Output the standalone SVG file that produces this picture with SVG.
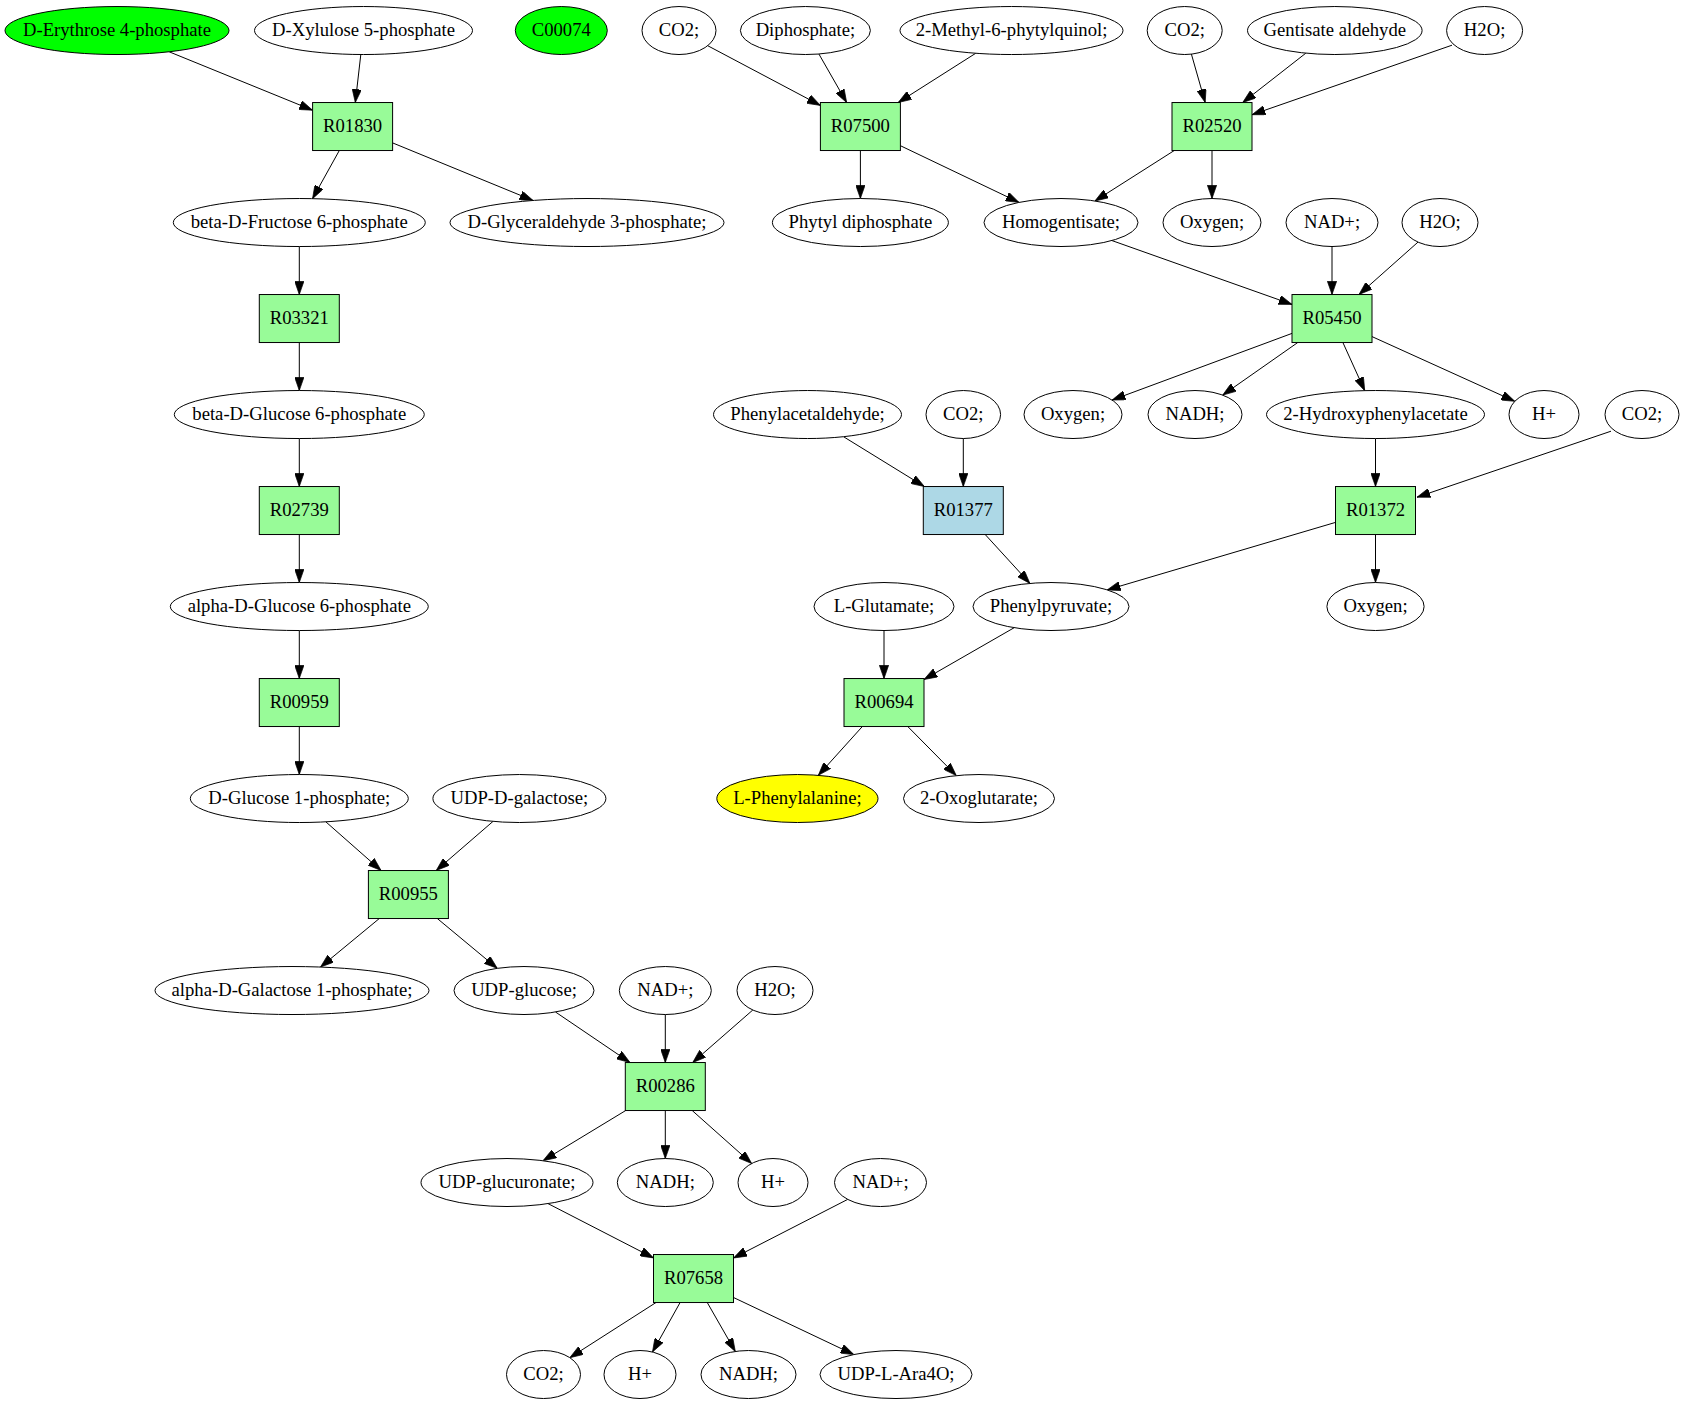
<svg xmlns="http://www.w3.org/2000/svg" width="1685" height="1403" viewBox="0 0 1685 1403">
<style>
.n ellipse{fill:#ffffff;stroke:#000000;stroke-width:1}
.n rect{fill:#98fb98;stroke:#000000;stroke-width:1}
.n text{font-family:"Liberation Serif","Times New Roman",serif;font-size:18.67px;text-anchor:middle;fill:#000000}
.src ellipse{fill:#00ff00}
.tgt ellipse{fill:#ffff00}
.blue rect{fill:#add8e6}
#edges path{fill:none;stroke:#000000;stroke-width:1;marker-end:url(#arr)}
</style>
<defs>
<marker id="arr" markerUnits="userSpaceOnUse" viewBox="0 0 10 7" markerWidth="13.33" markerHeight="9.33" refX="10" refY="3.5" orient="auto">
<path d="M0,0 L10,3.5 L0,7 z" fill="#000000" stroke="#000000" stroke-width="0.5"/>
</marker>
</defs>
<rect x="0" y="0" width="1685" height="1403" fill="#ffffff"/>
<g transform="translate(0,1.2)">
<g id="edges">
<path d="M169.2,50.6 L312.6,109"/>
<path d="M360.8,53.3 L355.3,101.3"/>
<path d="M339.3,149.33 L312.55,197.46"/>
<path d="M392.6,141.7 L533.1,199.3"/>
<path d="M299.3,245.33 L299.3,293.33"/>
<path d="M299.3,341.33 L299.3,389.33"/>
<path d="M299.3,437.33 L299.3,485.33"/>
<path d="M299.3,533.33 L299.3,581.33"/>
<path d="M299.3,629.33 L299.3,677.33"/>
<path d="M299.3,725.33 L299.3,773.33"/>
<path d="M325.8,820.6 L381.1,869.33"/>
<path d="M493,820.2 L436.2,869.33"/>
<path d="M379.3,917.33 L320.5,965.85"/>
<path d="M437.3,917.33 L497.3,967.15"/>
<path d="M555.5,1010.8 L630,1061.33"/>
<path d="M665.3,1013.33 L665.3,1061.33"/>
<path d="M752.8,1008.8 L692.7,1061.33"/>
<path d="M625.7,1109.33 L543,1159.5"/>
<path d="M665.3,1109.33 L665.3,1157.33"/>
<path d="M692.2,1109.33 L751.7,1162.3"/>
<path d="M548,1202.4 L653.5,1256.7"/>
<path d="M847.7,1198.2 L733.5,1256.8"/>
<path d="M656,1301.33 L569.8,1356.5"/>
<path d="M680.1,1301.33 L652.5,1350.8"/>
<path d="M707.25,1301.33 L735.3,1350.3"/>
<path d="M733.5,1296.3 L853.9,1353.4"/>
<path d="M707.7,44.5 L820.4,104.2"/>
<path d="M818.9,52.8 L846.65,101.33"/>
<path d="M975.7,52.1 L898.2,101.33"/>
<path d="M860.4,149.33 L860.4,197.33"/>
<path d="M900.4,144.5 L1019,201.2"/>
<path d="M1191.4,52.9 L1205.2,101.33"/>
<path d="M1305.8,52 L1242.7,101.33"/>
<path d="M1452,44 L1252,113.5"/>
<path d="M1174.25,149.33 L1094.9,199.8"/>
<path d="M1212,149.33 L1212,197.33"/>
<path d="M1111.9,239.35 L1292,303.2"/>
<path d="M1332,245.33 L1332,293.33"/>
<path d="M1418,240.9 L1359,293.33"/>
<path d="M1292,332.2 L1112.1,398.85"/>
<path d="M1297.75,341.33 L1222.7,393.9"/>
<path d="M1342.9,341.33 L1364.7,389.45"/>
<path d="M1372,335.4 L1514.8,400.1"/>
<path d="M843.5,435.5 L924.35,485.33"/>
<path d="M963.3,437.33 L963.3,485.33"/>
<path d="M985.2,533.33 L1029.9,582.2"/>
<path d="M1375.5,437.33 L1375.5,485.33"/>
<path d="M1611,430 L1417,496"/>
<path d="M1335.5,521.2 L1107.2,588.7"/>
<path d="M1375.5,533.33 L1375.5,581.33"/>
<path d="M884,629.33 L884,677.33"/>
<path d="M1014.2,626.5 L924,678.3"/>
<path d="M862.35,725.33 L818.3,774.15"/>
<path d="M907.75,725.33 L956.3,774.4"/>
</g>
<g id="n_e4p" class="n src"><ellipse cx="117" cy="29.33" rx="112" ry="24"/><text x="117" y="34.93">D-Erythrose 4-phosphate</text></g>
<g id="n_xu5p" class="n"><ellipse cx="363.5" cy="29.33" rx="109" ry="24"/><text x="363.5" y="34.93">D-Xylulose 5-phosphate</text></g>
<g id="n_c00074" class="n src"><ellipse cx="561.3" cy="29.33" rx="46" ry="24"/><text x="561.3" y="34.93">C00074</text></g>
<g id="n_co2a" class="n"><ellipse cx="679" cy="29.33" rx="37" ry="24"/><text x="679" y="34.93">CO2;</text></g>
<g id="n_diphos" class="n"><ellipse cx="805.4" cy="29.33" rx="65" ry="24"/><text x="805.4" y="34.93">Diphosphate;</text></g>
<g id="n_mpq" class="n"><ellipse cx="1011.5" cy="29.33" rx="111.5" ry="24"/><text x="1011.5" y="34.93">2-Methyl-6-phytylquinol;</text></g>
<g id="n_co2b" class="n"><ellipse cx="1184.7" cy="29.33" rx="37.5" ry="24"/><text x="1184.7" y="34.93">CO2;</text></g>
<g id="n_gent" class="n"><ellipse cx="1334.8" cy="29.33" rx="87.3" ry="24"/><text x="1334.8" y="34.93">Gentisate aldehyde</text></g>
<g id="n_h2oa" class="n"><ellipse cx="1484.6" cy="29.33" rx="38" ry="24"/><text x="1484.6" y="34.93">H2O;</text></g>
<g id="n_R01830" class="n"><rect x="312.6" y="101.33" width="80" height="48"/><text x="352.6" y="130.93">R01830</text></g>
<g id="n_R07500" class="n"><rect x="820.4" y="101.33" width="80" height="48"/><text x="860.4" y="130.93">R07500</text></g>
<g id="n_R02520" class="n"><rect x="1172" y="101.33" width="80" height="48"/><text x="1212" y="130.93">R02520</text></g>
<g id="n_bf6p" class="n"><ellipse cx="299.3" cy="221.33" rx="126" ry="24"/><text x="299.3" y="226.93">beta-D-Fructose 6-phosphate</text></g>
<g id="n_gap" class="n"><ellipse cx="587" cy="221.33" rx="137" ry="24"/><text x="587" y="226.93">D-Glyceraldehyde 3-phosphate;</text></g>
<g id="n_phytyl" class="n"><ellipse cx="860.4" cy="221.33" rx="88" ry="24"/><text x="860.4" y="226.93">Phytyl diphosphate</text></g>
<g id="n_homog" class="n"><ellipse cx="1061" cy="221.33" rx="77" ry="24"/><text x="1061" y="226.93">Homogentisate;</text></g>
<g id="n_oxya" class="n"><ellipse cx="1212" cy="221.33" rx="49" ry="24"/><text x="1212" y="226.93">Oxygen;</text></g>
<g id="n_nada" class="n"><ellipse cx="1332" cy="221.33" rx="46" ry="24"/><text x="1332" y="226.93">NAD+;</text></g>
<g id="n_h2ob" class="n"><ellipse cx="1440" cy="221.33" rx="38" ry="24"/><text x="1440" y="226.93">H2O;</text></g>
<g id="n_R03321" class="n"><rect x="259.3" y="293.33" width="80" height="48"/><text x="299.3" y="322.93">R03321</text></g>
<g id="n_R05450" class="n"><rect x="1292" y="293.33" width="80" height="48"/><text x="1332" y="322.93">R05450</text></g>
<g id="n_bg6p" class="n"><ellipse cx="299.3" cy="413.33" rx="125" ry="24"/><text x="299.3" y="418.93">beta-D-Glucose 6-phosphate</text></g>
<g id="n_phac" class="n"><ellipse cx="807.5" cy="413.33" rx="94" ry="24"/><text x="807.5" y="418.93">Phenylacetaldehyde;</text></g>
<g id="n_co2c" class="n"><ellipse cx="963.3" cy="413.33" rx="37.3" ry="24"/><text x="963.3" y="418.93">CO2;</text></g>
<g id="n_oxyb" class="n"><ellipse cx="1073" cy="413.33" rx="49" ry="24"/><text x="1073" y="418.93">Oxygen;</text></g>
<g id="n_nadha" class="n"><ellipse cx="1195" cy="413.33" rx="47" ry="24"/><text x="1195" y="418.93">NADH;</text></g>
<g id="n_hpa" class="n"><ellipse cx="1375.5" cy="413.33" rx="109" ry="24"/><text x="1375.5" y="418.93">2-Hydroxyphenylacetate</text></g>
<g id="n_ha" class="n"><ellipse cx="1544" cy="413.33" rx="35" ry="24"/><text x="1544" y="418.93">H+</text></g>
<g id="n_co2d" class="n"><ellipse cx="1642" cy="413.33" rx="37" ry="24"/><text x="1642" y="418.93">CO2;</text></g>
<g id="n_R02739" class="n"><rect x="259.3" y="485.33" width="80" height="48"/><text x="299.3" y="514.93">R02739</text></g>
<g id="n_R01377" class="n blue"><rect x="923.3" y="485.33" width="80" height="48"/><text x="963.3" y="514.93">R01377</text></g>
<g id="n_R01372" class="n"><rect x="1335.5" y="485.33" width="80" height="48"/><text x="1375.5" y="514.93">R01372</text></g>
<g id="n_ag6p" class="n"><ellipse cx="299.3" cy="605.33" rx="129" ry="24"/><text x="299.3" y="610.93">alpha-D-Glucose 6-phosphate</text></g>
<g id="n_glu" class="n"><ellipse cx="884" cy="605.33" rx="70" ry="24"/><text x="884" y="610.93">L-Glutamate;</text></g>
<g id="n_phpyr" class="n"><ellipse cx="1051" cy="605.33" rx="78" ry="24"/><text x="1051" y="610.93">Phenylpyruvate;</text></g>
<g id="n_oxyc" class="n"><ellipse cx="1375.5" cy="605.33" rx="48.6" ry="24"/><text x="1375.5" y="610.93">Oxygen;</text></g>
<g id="n_R00959" class="n"><rect x="259.3" y="677.33" width="80" height="48"/><text x="299.3" y="706.93">R00959</text></g>
<g id="n_R00694" class="n"><rect x="844" y="677.33" width="80" height="48"/><text x="884" y="706.93">R00694</text></g>
<g id="n_g1p" class="n"><ellipse cx="299.3" cy="797.33" rx="109" ry="24"/><text x="299.3" y="802.93">D-Glucose 1-phosphate;</text></g>
<g id="n_udpgal" class="n"><ellipse cx="519.4" cy="797.33" rx="86.5" ry="24"/><text x="519.4" y="802.93">UDP-D-galactose;</text></g>
<g id="n_phe" class="n tgt"><ellipse cx="797.4" cy="797.33" rx="80.6" ry="24"/><text x="797.4" y="802.93">L-Phenylalanine;</text></g>
<g id="n_oxog" class="n"><ellipse cx="979" cy="797.33" rx="75.5" ry="24"/><text x="979" y="802.93">2-Oxoglutarate;</text></g>
<g id="n_R00955" class="n"><rect x="368.4" y="869.33" width="80" height="48"/><text x="408.4" y="898.93">R00955</text></g>
<g id="n_agal1p" class="n"><ellipse cx="292" cy="989.33" rx="137" ry="24"/><text x="292" y="994.93">alpha-D-Galactose 1-phosphate;</text></g>
<g id="n_udpg" class="n"><ellipse cx="524" cy="989.33" rx="70" ry="24"/><text x="524" y="994.93">UDP-glucose;</text></g>
<g id="n_nadb" class="n"><ellipse cx="665.3" cy="989.33" rx="46" ry="24"/><text x="665.3" y="994.93">NAD+;</text></g>
<g id="n_h2oc" class="n"><ellipse cx="775" cy="989.33" rx="38" ry="24"/><text x="775" y="994.93">H2O;</text></g>
<g id="n_R00286" class="n"><rect x="625.3" y="1061.33" width="80" height="48"/><text x="665.3" y="1090.93">R00286</text></g>
<g id="n_udpga" class="n"><ellipse cx="507" cy="1181.33" rx="86" ry="24"/><text x="507" y="1186.93">UDP-glucuronate;</text></g>
<g id="n_nadhb" class="n"><ellipse cx="665.3" cy="1181.33" rx="48" ry="24"/><text x="665.3" y="1186.93">NADH;</text></g>
<g id="n_hb" class="n"><ellipse cx="773" cy="1181.33" rx="35" ry="24"/><text x="773" y="1186.93">H+</text></g>
<g id="n_nadc" class="n"><ellipse cx="880.5" cy="1181.33" rx="46" ry="24"/><text x="880.5" y="1186.93">NAD+;</text></g>
<g id="n_R07658" class="n"><rect x="653.5" y="1253.33" width="80" height="48"/><text x="693.5" y="1282.93">R07658</text></g>
<g id="n_co2e" class="n"><ellipse cx="543.5" cy="1373.33" rx="37" ry="24"/><text x="543.5" y="1378.93">CO2;</text></g>
<g id="n_hc" class="n"><ellipse cx="640" cy="1373.33" rx="36" ry="24"/><text x="640" y="1378.93">H+</text></g>
<g id="n_nadhc" class="n"><ellipse cx="748.5" cy="1373.33" rx="47.5" ry="24"/><text x="748.5" y="1378.93">NADH;</text></g>
<g id="n_udpara" class="n"><ellipse cx="896" cy="1373.33" rx="76" ry="24"/><text x="896" y="1378.93">UDP-L-Ara4O;</text></g>
</g>
</svg>
